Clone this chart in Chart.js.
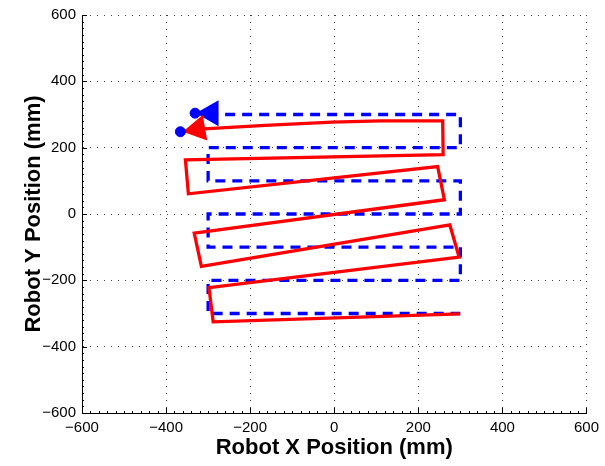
<!DOCTYPE html>
<html>
<head>
<meta charset="utf-8">
<script src="https://cdn.jsdelivr.net/npm/chart.js@4/dist/chart.umd.min.js"></script>
<style>
  html, body { margin: 0; padding: 0; background: #ffffff; }
  #plot { display: block; }
</style>
</head>
<body>
<canvas id="plot" width="605" height="466"></canvas>
<script>
// Planned serpentine path (mm)
const desiredX = [-300, 300, 300, -300, -300, 300, 300, -300, -300, 300, 300, -300, -300, 300];
const desiredY = [300, 300, 200, 200, 100, 100, 0, 0, -100, -100, -200, -200, -300, -300];

// Measured robot path (mm)
const actualX = [-366, -320, -165, -5, 110, 258, 259, -354, -347, 246, 262, -333, -316, 275, 297, -298, -288, 299];
const actualY = [248, 256, 267, 277, 281, 281, 179, 163, 61, 143, 43, -58, -158, -33, -130, -222, -325, -301];

// Start positions (circles) and heading arrows (triangles)
const startX = [-331, -366];
const startY = [304, 248];
const headingX = [-293, -325];
const headingY = [304, 256];
const headingAngle = [-90, -100];
const headingColor = ['#0000ff', '#ff0000'];

// Axis ticks
const xTickValues = [-600, -400, -200, 0, 200, 400, 600];
const yTickValues = [-600, -400, -200, 0, 200, 400, 600];

const toPoints = (xs, ys) => xs.map((x, i) => ({ x: x, y: ys[i] }));
const fmt = v => (v < 0 ? '\u2212' + Math.abs(v) : String(v));

const FONT = "'Liberation Sans', Arial, Helvetica, sans-serif";

// Inward major/minor tick marks on the left and bottom axes
const innerTicks = {
  id: 'innerTicks',
  afterDatasetsDraw(chart) {
    const { ctx, chartArea: a, scales: { x, y } } = chart;
    ctx.save();
    ctx.strokeStyle = '#000000';
    ctx.lineWidth = 1;
    ctx.beginPath();
    for (let v = -600; v <= 600; v += 20) {
      const len = v % 200 === 0 ? 5 : 2;
      const px = Math.round(x.getPixelForValue(v)) + 0.5;
      ctx.moveTo(px, a.bottom);
      ctx.lineTo(px, a.bottom - len);
      const py = Math.round(y.getPixelForValue(v)) + 0.5;
      ctx.moveTo(a.left, py);
      ctx.lineTo(a.left + len, py);
    }
    ctx.stroke();
    ctx.restore();
  }
};

new Chart(document.getElementById('plot'), {
  type: 'scatter',
  data: {
    datasets: [
      {
        label: 'start',
        data: toPoints(startX, startY),
        pointStyle: 'circle',
        pointRadius: 5,
        pointBackgroundColor: '#0000ff',
        pointBorderColor: '#0000ff',
        pointBorderWidth: 1,
        showLine: false
      },
      {
        label: 'heading',
        data: toPoints(headingX, headingY),
        pointStyle: 'triangle',
        pointRadius: 12,
        pointRotation: headingAngle,
        pointBackgroundColor: headingColor,
        pointBorderColor: headingColor,
        pointBorderWidth: 3,
        showLine: false
      },
      {
        label: 'actual',
        data: toPoints(actualX, actualY),
        showLine: true,
        borderColor: '#ff0000',
        borderWidth: 3.3,
        pointRadius: 0,
        tension: 0,
        fill: false
      },
      {
        label: 'desired',
        data: toPoints(desiredX, desiredY),
        showLine: true,
        borderColor: '#0000ff',
        borderWidth: 3.3,
        borderDash: [10, 7],
        pointRadius: 0,
        tension: 0,
        fill: false
      }
    ]
  },
  options: {
    responsive: false,
    animation: false,
    devicePixelRatio: 1,
    layout: { padding: { top: 14, right: 15, left: 0, bottom: 0 } },
    plugins: {
      legend: { display: false },
      tooltip: { enabled: false }
    },
    scales: {
      x: {
        type: 'linear',
        position: 'bottom',
        min: -600,
        max: 600,
        afterBuildTicks: s => { s.ticks = xTickValues.map(v => ({ value: v })); },
        afterFit: s => { s.height = 53; },
        ticks: {
          callback: v => fmt(v),
          color: '#000000',
          font: { family: FONT, size: 15 },
          padding: 6,
          maxRotation: 0
        },
        grid: {
          color: 'rgba(0,0,0,0.75)',
          lineWidth: 1,
          drawTicks: false
        },
        border: { display: true, color: '#000000', width: 1, dash: [1, 6] },
        title: {
          display: true,
          text: 'Robot X Position (mm)',
          color: '#000000',
          font: { family: FONT, size: 22, weight: 'bold' },
          padding: { top: 0, bottom: 5 }
        }
      },
      y: {
        type: 'linear',
        position: 'left',
        min: -600,
        max: 600,
        afterBuildTicks: s => { s.ticks = yTickValues.map(v => ({ value: v })); },
        afterFit: s => { s.width = 82; },
        ticks: {
          callback: v => fmt(v),
          color: '#000000',
          font: { family: FONT, size: 15 },
          padding: 6
        },
        grid: {
          color: 'rgba(0,0,0,0.75)',
          lineWidth: 1,
          drawTicks: false
        },
        border: { display: true, color: '#000000', width: 1, dash: [1, 6] },
        title: {
          display: true,
          text: 'Robot Y Position (mm)',
          color: '#000000',
          font: { family: FONT, size: 22, weight: 'bold' },
          padding: { top: 21, bottom: 0 }
        }
      }
    }
  },
  plugins: [innerTicks]
});
</script>
</body>
</html>
